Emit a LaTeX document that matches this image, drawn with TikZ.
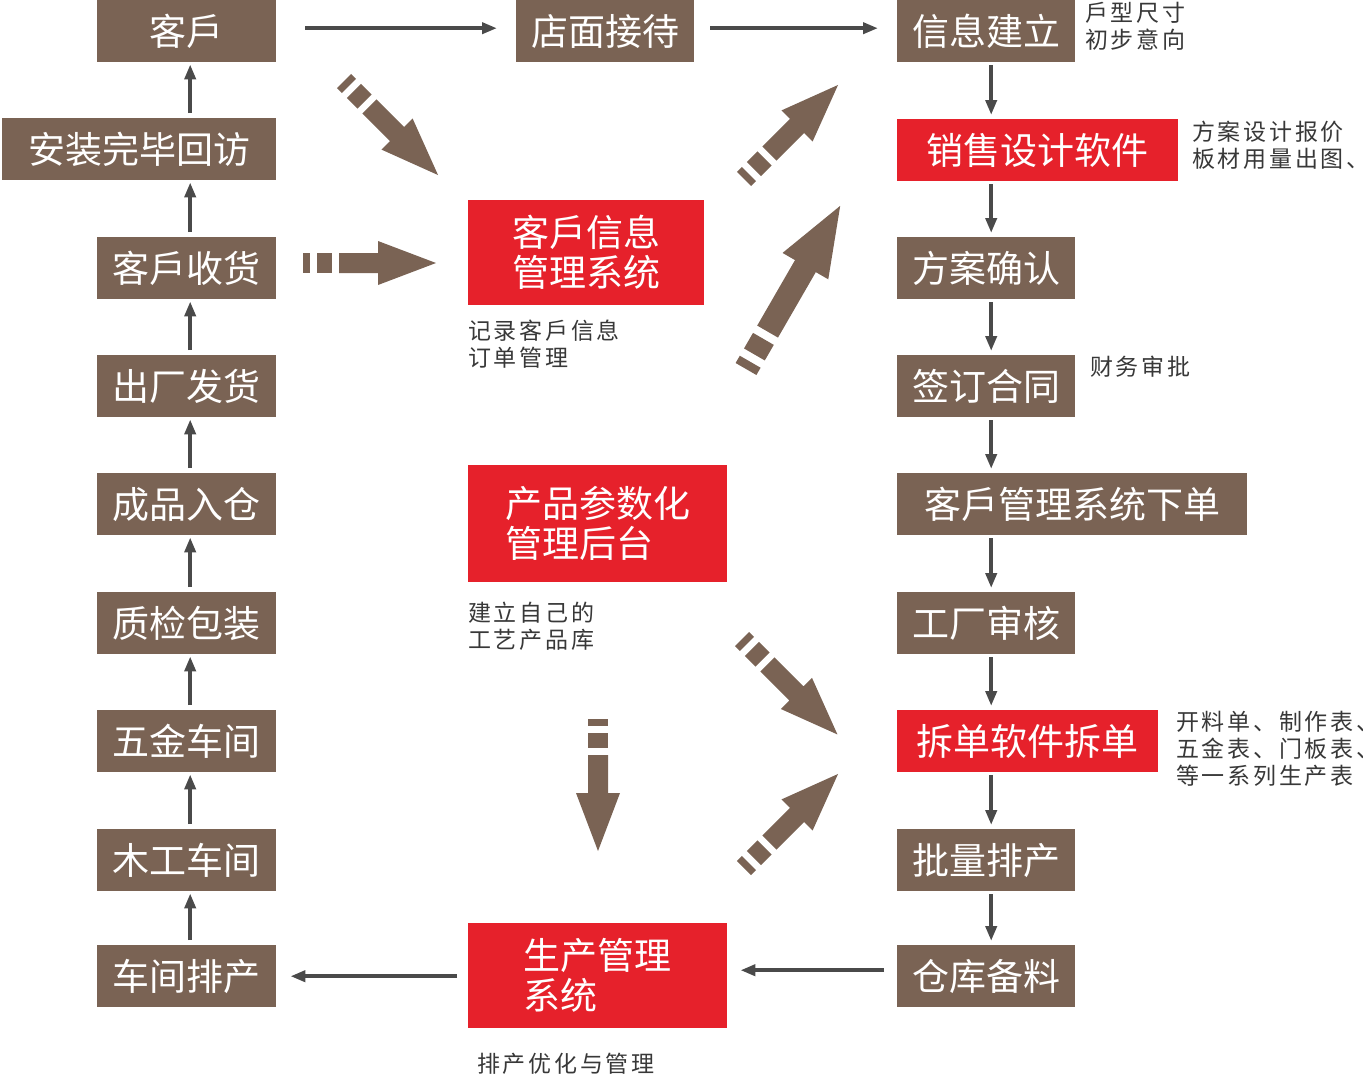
\documentclass[tikz,border=0pt]{standalone}
\usepackage{fontspec}
\setmainfont{Noto Sans CJK SC}
\newfontfamily\cjkbox{Noto Sans CJK SC}
\newfontfamily\cjknote[LetterSpace=12]{Noto Sans CJK SC}
\usetikzlibrary{arrows.meta}
\definecolor{boxbrown}{HTML}{7A6354}
\definecolor{boxred}{HTML}{E6212B}
\definecolor{arrgray}{HTML}{4A4A4A}
\definecolor{notegray}{HTML}{383838}
\newcommand{\blockarr}[5]{%
  \begin{scope}[shift={(#1,#2)},rotate=#3,scale=#5]
    \fill[boxbrown] (0,-10) rectangle (7,10);
    \fill[boxbrown] (14,-10) rectangle (29,10);
    \fill[boxbrown] (36,-10) -- ({#4-58},-10) -- ({#4-58},-22) -- (#4,0)
      -- ({#4-58},22) -- ({#4-58},10) -- (36,10) -- cycle;
  \end{scope}}
\begin{document}
\begin{tikzpicture}[x=1pt,y=-1pt,
  bx/.style={fill=boxbrown,text=white,font=\cjkbox\fontsize{37}{40}\selectfont,
    minimum height=62pt,inner sep=0pt,anchor=north west},
  rbx/.style={fill=boxred,text=white,font=\cjkbox\fontsize{37}{40}\selectfont,
    inner sep=0pt,anchor=north west,align=left},
  note/.style={text=notegray,font=\cjknote\fontsize{23}{27}\selectfont,
    inner sep=0pt,anchor=north west,align=left},
  thinarr/.style={draw=arrgray,line width=4pt,-{Triangle[length=15pt,width=11pt]}},
  uparr/.style={thinarr,shorten <=5pt,shorten >=2pt},
  dnarr/.style={thinarr,shorten <=3pt,shorten >=4pt}]
\useasboundingbox (0,0) rectangle (1363,1080);
% left column
\node[bx,minimum width=179pt] (kehu) at (97,0) {客戶};
\node[bx,minimum width=274pt] (anzhuang) at (2,118) {安装完毕回访};
\node[bx,minimum width=179pt] (shouhuo) at (97,237) {客戶收货};
\node[bx,minimum width=179pt] (fahuo) at (97,355) {出厂发货};
\node[bx,minimum width=179pt] (rucang) at (97,473) {成品入仓};
\node[bx,minimum width=179pt] (zhijian) at (97,592) {质检包装};
\node[bx,minimum width=179pt] (wujin) at (97,710) {五金车间};
\node[bx,minimum width=179pt] (mugong) at (97,829) {木工车间};
\node[bx,minimum width=179pt] (paichan) at (97,945) {车间排产};
% top middle
\node[bx,minimum width=178pt] (dianmian) at (516,0) {店面接待};
% right column
\node[bx,minimum width=178pt] (xinxi) at (897,0) {信息建立};
\node[bx,fill=boxred,minimum width=281pt] (xiaoshou) at (897,119) {销售设计软件};
\node[bx,minimum width=178pt] (queren) at (897,237) {方案确认};
\node[bx,minimum width=178pt] (hetong) at (897,355) {签订合同};
\node[bx,minimum width=350pt] (xiadan) at (897,473) {客戶管理系统下单};
\node[bx,minimum width=178pt] (shenhe) at (897,592) {工厂审核};
\node[bx,fill=boxred,minimum width=261pt] (chaidan) at (897,710) {拆单软件拆单};
\node[bx,minimum width=178pt] (piliang) at (897,829) {批量排产};
\node[bx,minimum width=178pt] (beiliao) at (897,945) {仓库备料};
% middle red boxes
\node[rbx,minimum width=236pt,minimum height=105pt] (crm) at (468,200) {客戶信息\\管理系统};
\node[rbx,minimum width=259pt,minimum height=117pt] (cpcs) at (468,465) {产品参数化\\管理后台};
\node[rbx,minimum width=259pt,minimum height=105pt] (scgl) at (468,923) {生产管理\\系统};
% notes
\node[note] (n1) at (468,320) {记录客戶信息\\订单管理};
\node[note] (n2) at (468,602) {建立自己的\\工艺产品库};
\node[note] (n3) at (477,1053) {排产优化与管理};
\node[note] (n4) at (1085,2) {戶型尺寸\\初步意向};
\node[note] (n5) at (1192,121) {方案设计报价\\板材用量出图、};
\node[note] (n6) at (1090,356) {财务审批};
\node[note] (n7) at (1176,711) {开料单、制作表、\\五金表、门板表、\\等一系列生产表};
% left column arrows (upward)
\foreach \a/\b in {paichan/mugong,mugong/wujin,wujin/zhijian,zhijian/rucang,
  rucang/fahuo,fahuo/shouhuo,shouhuo/anzhuang,anzhuang/kehu}
  \draw[uparr] ([xshift=3.5pt]\a.north -| kehu.south) -- ([xshift=3.5pt]\b.south -| kehu.south);
% right column arrows (downward)
\foreach \a/\b in {xinxi/xiaoshou,xiaoshou/queren,queren/hetong,hetong/xiadan,
  xiadan/shenhe,shenhe/chaidan,chaidan/piliang,piliang/beiliao}
  \draw[dnarr] ([xshift=5pt]\a.south -| xinxi.south) -- ([xshift=5pt]\b.north -| xinxi.south);
% horizontal arrows
\draw[thinarr,shorten <=29pt,shorten >=19pt] ([yshift=3pt]kehu.east) -- ([yshift=3pt]dianmian.west);
\draw[thinarr,shorten <=16pt,shorten >=19pt] ([yshift=3pt]dianmian.east) -- ([yshift=3pt]xinxi.west);
\draw[thinarr,shorten <=13pt,shorten >=13pt] ([yshift=6pt]beiliao.west) -- ([yshift=6pt]beiliao.west -| scgl.east);
\draw[thinarr,shorten <=11pt,shorten >=14pt] (scgl.west |- paichan.east) -- (paichan.east);
% block arrows
\blockarr{344}{81}{-45}{133}{1}
\blockarr{303}{263}{0}{133}{1}
\blockarr{744}{179}{45}{133}{1}
\blockarr{746}{369}{60}{157}{1.2}
\blockarr{742}{639}{-45}{135}{1}
\blockarr{744}{868}{45}{133}{1}
\blockarr{598}{719}{-90}{132}{1}
\end{tikzpicture}
\end{document}
